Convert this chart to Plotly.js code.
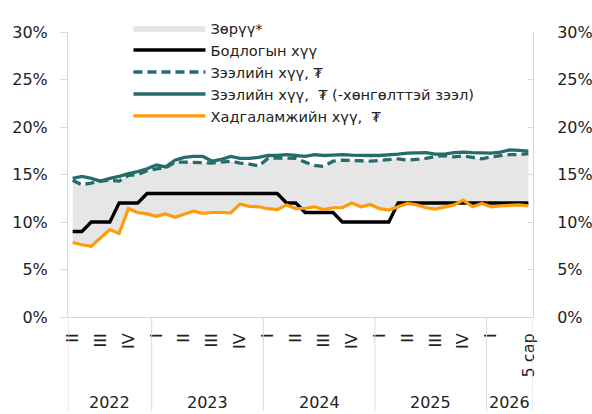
<!DOCTYPE html>
<html><head><meta charset="utf-8">
<script src="https://cdn.plot.ly/plotly-3.0.1.min.js"></script>
<style>html,body{margin:0;padding:0;background:#fff}#chart{width:592px;height:414px}</style>
</head><body><div id="chart"></div>
<script>
// ---- categories (months, Apr 2022 – May 2026) ----
const years = [2022, 2023, 2024, 2025, 2026];
const yearFirstMonth = [4, 1, 1, 1, 1];
const yearLastMonth = [12, 12, 12, 12, 5];
const months = [];
years.forEach((y, k) => {
  for (let m = yearFirstMonth[k]; m <= yearLastMonth[k]; m++) months.push(y + '-' + String(m).padStart(2, '0'));
});

// ---- series (%) ----
const policyRate = [9, 9, 10, 10, 10, 12, 12, 12, 13,
  13, 13, 13, 13, 13, 13, 13, 13, 13, 13, 13, 13,
  13, 13, 12, 12, 11, 11, 11, 11, 10, 10, 10, 10,
  10, 10, 12, 12, 12, 12, 12, 12, 12, 12, 12, 12,
  12, 12, 12, 12, 12];
const loanRate = [14.4, 13.9, 14.1, 14.3, 14.4, 14.3, 14.9, 15.0, 15.4,
  15.6, 15.7, 16.3, 16.3, 16.3, 16.25, 16.2, 16.3, 16.4, 16.2, 16.1, 15.9,
  16.7, 16.75, 16.75, 16.7, 16.3, 15.95, 15.85, 16.4, 16.5, 16.5, 16.45, 16.4,
  16.5, 16.6, 16.65, 16.5, 16.6, 16.7, 16.9, 17.0, 16.85, 16.95, 16.8, 16.65,
  16.85, 17.0, 17.1, 17.1, 17.2];
const loanRateExSub = [14.6, 14.8, 14.6, 14.3, 14.6, 14.8, 15.1, 15.3, 15.6,
  16.0, 15.8, 16.5, 16.8, 16.9, 16.9, 16.4, 16.6, 16.9, 16.7, 16.7, 16.8,
  17.0, 17.0, 17.1, 17.0, 16.9, 17.1, 17.0, 17.05, 17.1, 17.05, 17.0, 17.0,
  17.0, 17.05, 17.15, 17.25, 17.3, 17.3, 17.15, 17.15, 17.3, 17.35, 17.3, 17.25,
  17.25, 17.35, 17.6, 17.55, 17.45];
const depositRate = [7.85, 7.6, 7.45, 8.3, 9.2, 8.8, 11.4, 11.0, 10.85,
  10.6, 10.85, 10.5, 10.85, 11.15, 10.9, 11.0, 11.0, 10.95, 11.9, 11.65, 11.6,
  11.4, 11.3, 11.8, 11.4, 11.45, 11.6, 11.3, 11.5, 11.5, 12.0, 11.6, 11.85,
  11.4, 11.25, 11.6, 11.95, 11.8, 11.5, 11.35, 11.6, 11.8, 12.3, 11.6, 11.95,
  11.6, 11.7, 11.75, 11.8, 11.7];

// ---- tick labels ----
const tickMonths = ['2022-04', '2022-07', '2022-10',
  '2023-01', '2023-04', '2023-07', '2023-10',
  '2024-01', '2024-04', '2024-07', '2024-10',
  '2025-01', '2025-04', '2025-07', '2025-10',
  '2026-01', '2026-05'];
const tickLabels = ['II', 'III', 'IV', 'I', 'II', 'III', 'IV', 'I', 'II', 'III', 'IV', 'I', 'II', 'III', 'IV', 'I', '5 сар'];
const yTicks = [0, 5, 10, 15, 20, 25, 30];
const yTickLabels = ['0%', '5%', '10%', '15%', '20%', '25%', '30%'];

const names = ['Зөрүү*', 'Бодлогын хүү', 'Зээлийн хүү, ₮', 'Зээлийн хүү,  ₮ (-хөнгөлттэй зээл)', 'Хадгаламжийн хүү,  ₮'];
const TEAL = '#276c6c', ORANGE = '#ff9a0a', GRAY = '#e6e6e6', AX = '#d9d9d9';
const FONT = 'DejaVu Sans';

const traces = [
  {x: months, y: depositRate, mode: 'lines', line: {width: 0, color: GRAY}, showlegend: false, hoverinfo: 'skip'},
  {x: months, y: loanRate, mode: 'lines', name: names[0], fill: 'tonexty', fillcolor: GRAY, line: {width: 0, color: GRAY}},
  {x: months, y: policyRate, mode: 'lines', name: names[1], line: {color: '#000', width: 3.3}},
  {x: months, y: loanRate, mode: 'lines', name: names[2], line: {color: TEAL, width: 3.3, dash: '9px,5px'}},
  {x: months, y: loanRateExSub, mode: 'lines', name: names[3], line: {color: TEAL, width: 3.3}},
  {x: months, y: depositRate, mode: 'lines', name: names[4], line: {color: ORANGE, width: 3.2}},
  {x: months, y: depositRate, yaxis: 'y2', mode: 'lines', line: {width: 0}, opacity: 0, showlegend: false, hoverinfo: 'skip'}
];

// year groups: centre and boundaries in category index units
const annotations = [], shapes = [];
let start = 0;
const bounds = [-0.5];
years.forEach((y, k) => {
  const n = yearLastMonth[k] - yearFirstMonth[k] + 1;
  annotations.push({x: start + (n - 1) / 2, y: -0.3, xref: 'x', yref: 'paper', text: String(y), showarrow: false,
    font: {family: FONT, size: 16, color: '#222'}, yanchor: 'middle', borderpad: 0});
  start += n;
  bounds.push(start - 0.5);
});
bounds.forEach(b => shapes.push({type: 'line', xref: 'x', yref: 'paper', x0: b, x1: b, y0: 0, y1: -0.33, line: {color: AX, width: 1}}));

const layout = {
  width: 592, height: 414,
  margin: {l: 68, r: 59, t: 21, b: 97},
  paper_bgcolor: '#fff', plot_bgcolor: '#fff',
  font: {family: FONT, size: 16, color: '#222'},
  xaxis: {type: 'category', range: [-0.5, months.length - 0.5], showgrid: false, zeroline: false,
    showline: true, linecolor: AX, linewidth: 1, ticks: '', tickmode: 'array', tickvals: tickMonths, ticktext: tickLabels,
    tickangle: -90, ticklabelstandoff: 9, tickfont: {family: FONT, size: 16, color: '#222'}},
  yaxis: {range: [0, 30], tickmode: 'array', tickvals: yTicks, ticktext: yTickLabels, showgrid: false, zeroline: false,
    showline: true, linecolor: AX, ticks: 'outside', ticklen: 7, tickcolor: AX, ticklabelstandoff: 9,
    tickfont: {family: FONT, size: 16, color: '#222'}},
  yaxis2: {range: [0, 30], tickmode: 'array', tickvals: yTicks, ticktext: yTickLabels, overlaying: 'y', side: 'right', showgrid: false, zeroline: false,
    showline: true, linecolor: AX, ticks: 'inside', ticklen: 5, tickcolor: AX, ticklabelstandoff: 20,
    tickfont: {family: FONT, size: 16, color: '#222'}},
  legend: {x: 0.13, y: 1.07, xanchor: 'left', yanchor: 'top', bgcolor: 'rgba(0,0,0,0)', itemwidth: 72,
    font: {family: FONT, size: 14.6, color: '#222'}, traceorder: 'normal'},
  showlegend: true,
  annotations: annotations,
  shapes: shapes
};

Plotly.newPlot('chart', traces, layout, {staticPlot: true, displayModeBar: false});
</script></body></html>
